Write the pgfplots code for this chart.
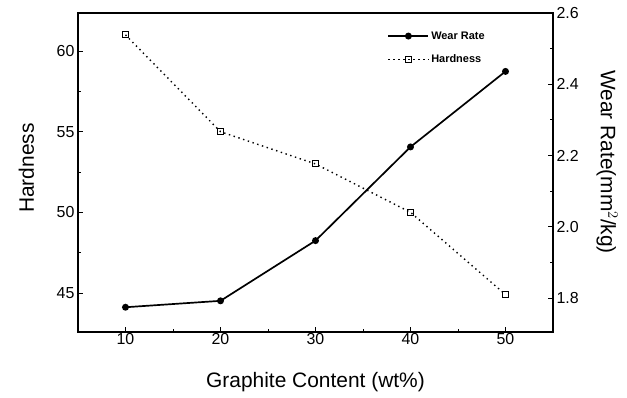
\documentclass[border=0pt]{standalone}
\usepackage{pgfplots}
\pgfplotsset{compat=1.18}
\usepackage{fontspec}
\setmainfont{Liberation Sans}

\pgfplotstableread{
x hard
10 61.0
20 55.0
30 53.0
40 50.0
50 44.9
}\hardtab
\pgfplotstableread{
x wear
10 1.774
20 1.792
30 1.961
40 2.224
50 2.436
}\weartab

\begin{document}
\begin{tikzpicture}
\useasboundingbox (-78bp,-66bp) rectangle (549bp,332bp);
\pgfplotsset{
  common/.style={
    at={(0,0)}, anchor=south west,
    scale only axis, width=475bp, height=319bp,
    xmin=5, xmax=55,
    major tick length=5bp, minor tick length=3bp,
    tick style={black, line width=0.8pt},
    axis line style={line width=1.2pt},
    ticklabel style={font=\fontsize{16}{19}\selectfont},
    /pgf/number format/assume math mode=true,
    label style={font=\fontsize{21}{24}\selectfont},
  },
  longlegend/.style={
    legend image code/.code={
      \draw[mark repeat=2, mark phase=2, ##1] plot coordinates {(0bp,0bp) (20bp,0bp) (40bp,0bp)};
    }
  }
}
\begin{axis}[
  common,
  ymin=42.58, ymax=62.36,
  xtick={10,20,30,40,50}, minor x tick num=1,
  ytick={45,50,55,60}, minor y tick num=1,
  xtick pos=bottom, ytick pos=left,
  xticklabel style={yshift=2bp},
  xlabel={Graphite Content (wt\%)},
  ylabel={Hardness},
  xlabel style={at={(axis description cs:0.5,-0.157)}, anchor=center},
  ylabel style={at={(axis description cs:-0.1084,0.514)}, anchor=center},
]
\addplot[black, line width=1.4pt, dash pattern=on 1.4pt off 3.6pt,
  mark=square, mark size=3pt, mark options={solid, line width=1pt}]
  table[x=x, y=hard] {\hardtab};
\end{axis}
\begin{axis}[
  common,
  ymin=1.7045, ymax=2.6,
  axis x line=none, axis y line*=right,
  ytick={1.8,2.0,2.2,2.4,2.6}, minor y tick num=1,
  yticklabel style={/pgf/number format/.cd, fixed, fixed zerofill, precision=1},
  ylabel={Wear Rate(mm$^2$/kg)},
  ylabel style={at={(axis description cs:1.1137,0.533)}, anchor=center, rotate=180},
  legend style={at={(rel axis cs:0.645,0.955)}, anchor=north west, draw=none, fill=none,
    font=\bfseries\fontsize{11}{13}\selectfont, row sep=10bp},
  legend cell align=left,
  longlegend,
]
\addplot[black, line width=1.7pt, mark=*, mark size=2.6pt]
  table[x=x, y=wear] {\weartab};
\addlegendentry{Wear Rate}
\addlegendimage{black, line width=1.4pt, dash pattern=on 1.4pt off 3.6pt,
  mark=square, mark size=3pt, mark options={solid, line width=1pt}}
\addlegendentry{Hardness}
\end{axis}
\end{tikzpicture}
\end{document}
